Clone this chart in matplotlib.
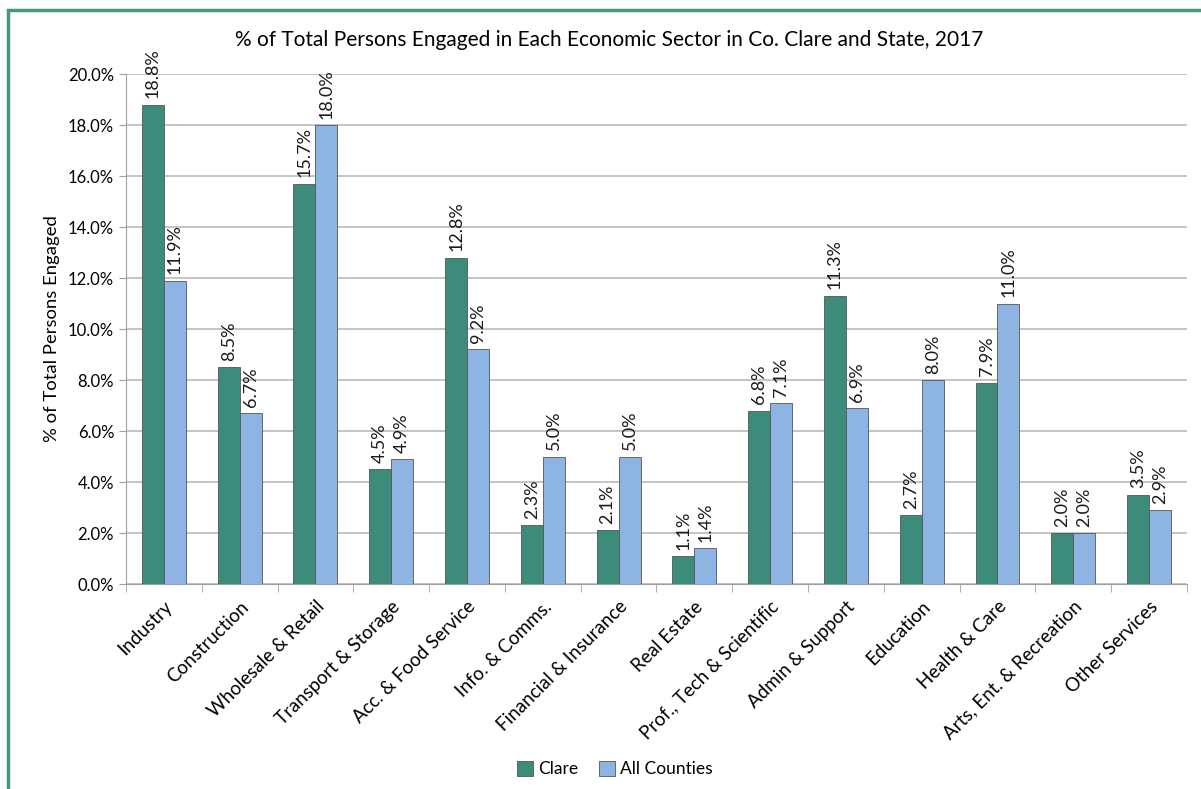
import numpy as np
import matplotlib
matplotlib.use('Agg')
import matplotlib.pyplot as plt
from matplotlib.patches import Rectangle
from matplotlib.ticker import FuncFormatter, MultipleLocator, FixedLocator

plt.rcParams['font.family'] = ['Lato', 'DejaVu Sans']

# Data
sectors = ['Industry', 'Construction', 'Wholesale & Retail', 'Transport & Storage',
           'Acc. & Food Service', 'Info. & Comms.', 'Financial & Insurance', 'Real Estate',
           'Prof., Tech & Scientific', 'Admin & Support', 'Education', 'Health & Care',
           'Arts, Ent. & Recreation', 'Other Services']
clare = [18.8, 8.5, 15.7, 4.5, 12.8, 2.3, 2.1, 1.1, 6.8, 11.3, 2.7, 7.9, 2.0, 3.5]
all_counties = [11.9, 6.7, 18.0, 4.9, 9.2, 5.0, 5.0, 1.4, 7.1, 6.9, 8.0, 11.0, 2.0, 2.9]

fig = plt.figure(figsize=(12.01, 7.89), dpi=100)
ax = fig.add_axes([0.1049, 0.2598, 0.8834, 0.6464])

x = np.arange(len(sectors))
w = 0.29
b1 = ax.bar(x - w / 2, clare, w, color='#3D8B7B', edgecolor='#555555', linewidth=0.6,
            label='Clare', zorder=3)
b2 = ax.bar(x + w / 2, all_counties, w, color='#8EB4E3', edgecolor='#555555', linewidth=0.6,
            label='All Counties', zorder=3)

for bars in (b1, b2):
    for r in bars:
        h = r.get_height()
        ax.text(r.get_x() + r.get_width() / 2, h + 0.25, f'{h:.1f}%', rotation=90,
                ha='center', va='bottom', fontsize=13, color='#1a1a1a')

ax.set_xlim(-0.5, len(sectors) - 0.5)
ax.set_ylim(0, 20)
ax.yaxis.set_major_locator(MultipleLocator(2))
ax.yaxis.set_major_formatter(FuncFormatter(lambda v, p: f'{v:.1f}%'))
ax.grid(axis='y', color='#c4c4c4', linewidth=1.4, zorder=0)
ax.set_axisbelow(True)

ax.set_xticks(x)
ax.set_xticklabels(sectors, rotation=45, ha='right', rotation_mode='anchor', fontsize=13.5)
ax.xaxis.set_minor_locator(FixedLocator(np.arange(-0.5, len(sectors), 1.0)))
ax.tick_params(axis='x', which='major', length=0, pad=10)
ax.tick_params(axis='x', which='minor', length=6, color='#a0a0a0')
ax.tick_params(axis='y', length=5, color='#a0a0a0', labelsize=12)

for s in ('top', 'right'):
    ax.spines[s].set_visible(False)
ax.spines['left'].set_color('#a0a0a0')
ax.spines['bottom'].set_color('#a0a0a0')

ax.set_ylabel('% of Total Persons Engaged', fontsize=13.3, labelpad=6)
fig.text(0.507, 0.949, '% of Total Persons Engaged in Each Economic Sector in Co. Clare and State, 2017',
         ha='center', va='center', fontsize=15)

fig.legend(handles=[b1, b2], loc='center', bbox_to_anchor=(0.512, 0.025), ncol=2,
           frameon=False, fontsize=12.5, handlelength=0.9, handleheight=0.9,
           handletextpad=0.3, columnspacing=1.2)

# teal frame
fig.patches.append(Rectangle((8 / 1201, -0.1), 1.2, 1 - 10 / 789 + 0.1, transform=fig.transFigure,
                             fill=False, edgecolor='#4A9685', linewidth=2.5))

fig.savefig('out.png', dpi=100)
